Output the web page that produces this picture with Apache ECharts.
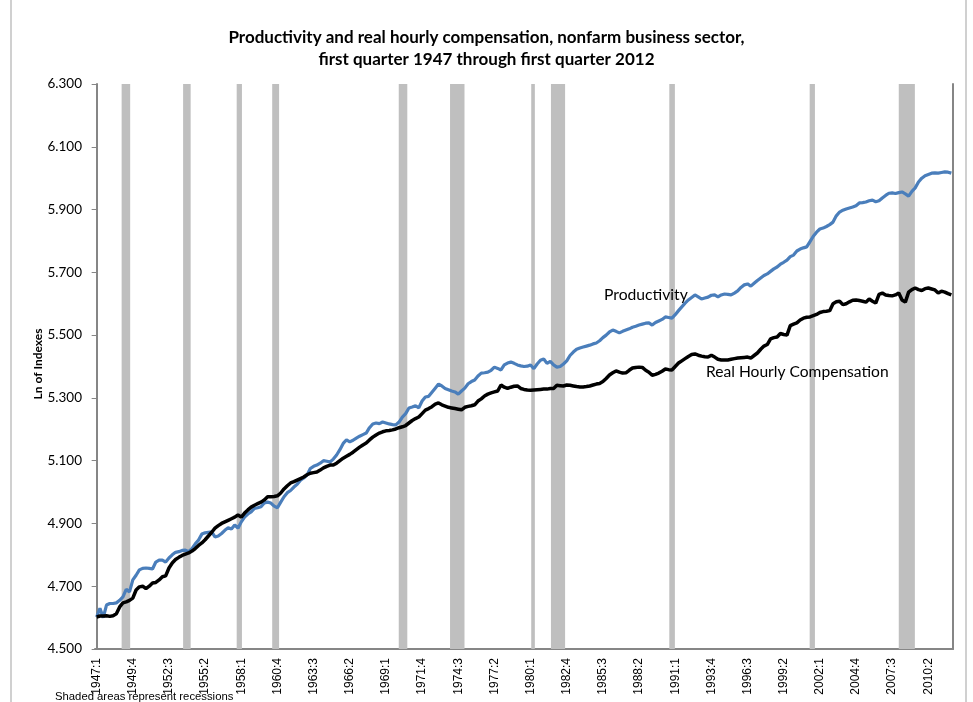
<!DOCTYPE html>
<html lang="en">
<head>
    <meta charset="UTF-8">
    <title>Productivity and real hourly compensation</title>
    <script src="https://cdn.jsdelivr.net/npm/echarts@6/dist/echarts.min.js"></script>
    <style>
        html, body { margin: 0; padding: 0; background: #fff; }
    </style>
</head>
<body>
<div id="main" style="width: 973px;height:702px;"></div>

<script type="text/javascript">
    // quarters 1947:1 .. 2012:1
    var quarters = [];
    for (var y = 1947; y <= 2012; y++) {
        for (var q = 1; q <= 4; q++) {
            if (y === 2012 && q > 1) break;
            quarters.push(y + ':' + q);
        }
    }

    // ln of productivity index
    var productivity = [
        4.602, 4.630, 4.600, 4.640, 4.645, 4.645, 4.647, 4.655,
        4.666, 4.690, 4.682, 4.720, 4.735, 4.752, 4.757, 4.758,
        4.757, 4.755, 4.777, 4.783, 4.783, 4.777, 4.790, 4.800,
        4.808, 4.810, 4.814, 4.815, 4.810, 4.820, 4.835, 4.847,
        4.866, 4.870, 4.872, 4.873, 4.857, 4.860, 4.868, 4.878,
        4.886, 4.882, 4.895, 4.885, 4.905, 4.920, 4.930, 4.937,
        4.948, 4.950, 4.953, 4.965, 4.968, 4.965, 4.955, 4.950,
        4.968, 4.985, 4.998, 5.005, 5.016, 5.025, 5.038, 5.045,
        5.054, 5.075, 5.082, 5.086, 5.092, 5.100, 5.098, 5.096,
        5.105, 5.118, 5.135, 5.155, 5.166, 5.160, 5.165, 5.172,
        5.178, 5.183, 5.188, 5.205, 5.217, 5.220, 5.218, 5.223,
        5.220, 5.217, 5.215, 5.214, 5.223, 5.239, 5.250, 5.268,
        5.271, 5.275, 5.268, 5.290, 5.303, 5.305, 5.318, 5.331,
        5.344, 5.338, 5.330, 5.326, 5.322, 5.319, 5.312, 5.322,
        5.331, 5.345, 5.352, 5.357, 5.370, 5.379, 5.380, 5.382,
        5.388, 5.398, 5.394, 5.389, 5.405, 5.411, 5.414, 5.410,
        5.405, 5.402, 5.400, 5.401, 5.405, 5.393, 5.408, 5.420,
        5.424, 5.410, 5.416, 5.405, 5.398, 5.400, 5.408, 5.418,
        5.435, 5.446, 5.455, 5.459, 5.462, 5.465, 5.468, 5.472,
        5.475, 5.482, 5.492, 5.500, 5.510, 5.516, 5.512, 5.507,
        5.512, 5.516, 5.520, 5.525, 5.528, 5.532, 5.535, 5.538,
        5.539, 5.532, 5.540, 5.545, 5.550, 5.558, 5.556, 5.554,
        5.565, 5.578, 5.590, 5.602, 5.612, 5.620, 5.628, 5.622,
        5.615, 5.618, 5.621, 5.627, 5.628, 5.622, 5.628, 5.631,
        5.630, 5.628, 5.634, 5.641, 5.652, 5.660, 5.663, 5.656,
        5.665, 5.674, 5.682, 5.690, 5.695, 5.703, 5.711, 5.717,
        5.726, 5.732, 5.739, 5.750, 5.755, 5.768, 5.774, 5.778,
        5.781, 5.798, 5.815, 5.828, 5.838, 5.841, 5.846, 5.852,
        5.860, 5.880, 5.892, 5.898, 5.902, 5.905, 5.908, 5.912,
        5.921, 5.922, 5.924, 5.928, 5.930, 5.925, 5.928, 5.937,
        5.945, 5.952, 5.953, 5.951, 5.954, 5.956, 5.950, 5.943,
        5.958, 5.969, 5.988, 6.000, 6.008, 6.012, 6.016, 6.017,
        6.016, 6.018, 6.020, 6.019, 6.016
    ];

    // ln of real hourly compensation index
    var compensation = [
        4.602, 4.605, 4.605, 4.606, 4.604, 4.606, 4.612, 4.634,
        4.647, 4.650, 4.655, 4.662, 4.688, 4.698, 4.700, 4.692,
        4.700, 4.710, 4.712, 4.720, 4.730, 4.733, 4.758, 4.774,
        4.785, 4.792, 4.798, 4.802, 4.806, 4.812, 4.820, 4.830,
        4.838, 4.848, 4.860, 4.872, 4.885, 4.893, 4.900, 4.905,
        4.910, 4.915, 4.920, 4.927, 4.920, 4.933, 4.943, 4.952,
        4.958, 4.963, 4.968, 4.975, 4.985, 4.985, 4.986, 4.988,
        4.997, 5.010, 5.020, 5.029, 5.033, 5.038, 5.043, 5.048,
        5.055, 5.060, 5.062, 5.064, 5.070, 5.077, 5.082, 5.086,
        5.086, 5.092, 5.100, 5.108, 5.114, 5.120, 5.127, 5.135,
        5.143, 5.150, 5.156, 5.166, 5.175, 5.182, 5.188, 5.192,
        5.195, 5.196, 5.198, 5.201, 5.205, 5.208, 5.212, 5.220,
        5.228, 5.234, 5.239, 5.250, 5.261, 5.266, 5.272, 5.280,
        5.284, 5.278, 5.274, 5.270, 5.268, 5.266, 5.264, 5.262,
        5.270, 5.273, 5.275, 5.278, 5.290, 5.297, 5.306, 5.312,
        5.316, 5.319, 5.322, 5.341, 5.334, 5.330, 5.334, 5.337,
        5.338, 5.330, 5.327, 5.325, 5.324, 5.325, 5.326, 5.327,
        5.328, 5.328, 5.330, 5.330, 5.340, 5.339, 5.338, 5.341,
        5.340, 5.338, 5.336, 5.335, 5.335, 5.336, 5.338, 5.341,
        5.344, 5.346, 5.352, 5.362, 5.373, 5.380, 5.386, 5.382,
        5.379, 5.380, 5.388, 5.395, 5.397, 5.398, 5.397, 5.388,
        5.382, 5.372, 5.375, 5.379, 5.385, 5.392, 5.390, 5.389,
        5.400, 5.411, 5.418, 5.425, 5.432, 5.438, 5.440, 5.436,
        5.433, 5.431, 5.430, 5.436, 5.430, 5.423, 5.421, 5.421,
        5.421, 5.423, 5.425, 5.427, 5.428, 5.429, 5.430, 5.427,
        5.435, 5.443, 5.455, 5.465, 5.470, 5.488, 5.492, 5.494,
        5.505, 5.502, 5.500, 5.530, 5.535, 5.539, 5.548, 5.554,
        5.557, 5.558, 5.562, 5.566, 5.572, 5.575, 5.576, 5.578,
        5.600, 5.606, 5.608, 5.597, 5.600, 5.606, 5.611, 5.612,
        5.610, 5.608, 5.605, 5.615, 5.608, 5.602, 5.630, 5.634,
        5.628, 5.626, 5.625, 5.628, 5.634, 5.612, 5.605, 5.637,
        5.645, 5.650, 5.645, 5.642, 5.648, 5.650, 5.647, 5.644,
        5.634, 5.640, 5.637, 5.632, 5.628
    ];

    // shaded recession spans, in quarters counted from 1947:1
    var recessions = [
        [7.6, 10.2], [26.3, 28.6], [42.6, 44.2], [53.4, 55.5],
        [91.9, 94.5], [107.5, 111.9], [132.2, 133.3], [138.2, 142.5],
        [174.2, 175.9], [216.9, 218.5], [244.0, 248.9]
    ];

    var yMin = 4.5, yMax = 6.3, yStep = 0.2;

    var myChart = echarts.init(document.getElementById('main'));

    var option = {
        animation: false,
        title: {
            text: 'Productivity and real hourly compensation, nonfarm business sector,\nfirst quarter 1947 through first quarter 2012',
            left: 'center',
            top: 22,
            textStyle: {
                fontFamily: 'Lato',
                fontWeight: 'bold',
                fontSize: 17,
                lineHeight: 22,
                color: '#000'
            }
        },
        grid: {
            left: 95,
            right: 20,
            top: 84,
            bottom: 53
        },
        xAxis: [{
            type: 'category',
            data: quarters,
            boundaryGap: true,
            axisLine: { lineStyle: { color: '#868686', width: 2 } },
            axisTick: { show: false },
            axisLabel: {
                interval: 10,
                rotate: 90,
                margin: 9,
                fontFamily: 'Liberation Sans',
                fontSize: 12,
                color: '#000'
            },
            splitLine: { show: false }
        }, {
            type: 'value',
            min: -0.5,
            max: quarters.length - 0.5,
            show: false
        }],
        yAxis: [{
            type: 'value',
            min: yMin,
            max: yMax,
            interval: yStep,
            axisLine: { show: true, lineStyle: { color: '#868686', width: 2 } },
            axisTick: { show: true, length: 5, lineStyle: { color: '#868686' } },
            axisLabel: {
                fontFamily: 'Lato',
                fontSize: 13.5,
                color: '#000',
                margin: 13,
                formatter: function (v) { return v.toFixed(3); }
            },
            splitLine: { show: false }
        }, {
            type: 'value',
            position: 'right',
            min: yMin,
            max: yMax,
            axisLine: { show: true, lineStyle: { color: '#868686', width: 2 } },
            axisTick: { show: false },
            axisLabel: { show: false },
            splitLine: { show: false }
        }],
        series: [{
            name: 'Recessions',
            type: 'custom',
            xAxisIndex: 1,
            yAxisIndex: 0,
            z: 1,
            silent: true,
            data: recessions,
            renderItem: function (params, api) {
                var p0 = api.coord([api.value(0), yMax]);
                var p1 = api.coord([api.value(1), yMin]);
                return {
                    type: 'rect',
                    shape: { x: p0[0], y: p0[1], width: p1[0] - p0[0], height: p1[1] - p0[1] },
                    style: { fill: '#bfbfbf' }
                };
            }
        }, {
            name: 'Productivity',
            type: 'line',
            data: productivity,
            showSymbol: false,
            z: 3,
            lineStyle: { color: '#4a7ebb', width: 3.2 }
        }, {
            name: 'Real Hourly Compensation',
            type: 'line',
            data: compensation,
            showSymbol: false,
            z: 4,
            lineStyle: { color: '#000000', width: 3.5 }
        }],
        graphic: [
            {
                type: 'text', x: 38, y: 364, rotation: Math.PI / 2, z: 10,
                style: {
                    text: 'Ln of Indexes', font: 'bold 12px Lato', fill: '#000',
                    align: 'center', verticalAlign: 'middle'
                }
            },
            {
                type: 'text', left: 604, top: 287, z: 10,
                style: { text: 'Productivity', font: '15.7px Lato', fill: '#000' }
            },
            {
                type: 'text', left: 706, top: 364, z: 10,
                style: { text: 'Real Hourly Compensation', font: '15.6px Lato', fill: '#000' }
            },
            {
                type: 'text', left: 55, top: 691, z: 10,
                style: { text: 'Shaded areas represent recessions', font: '11.3px "Liberation Sans"', fill: '#000' }
            },
            {
                type: 'line', shape: { x1: 11, y1: 0, x2: 11, y2: 702 },
                style: { stroke: '#d0d0d0', lineWidth: 2 }
            },
            {
                type: 'line', shape: { x1: 966, y1: 0, x2: 966, y2: 702 },
                style: { stroke: '#d0d0d0', lineWidth: 2 }
            }
        ]
    };

    myChart.setOption(option);
</script>
</body>
</html>
